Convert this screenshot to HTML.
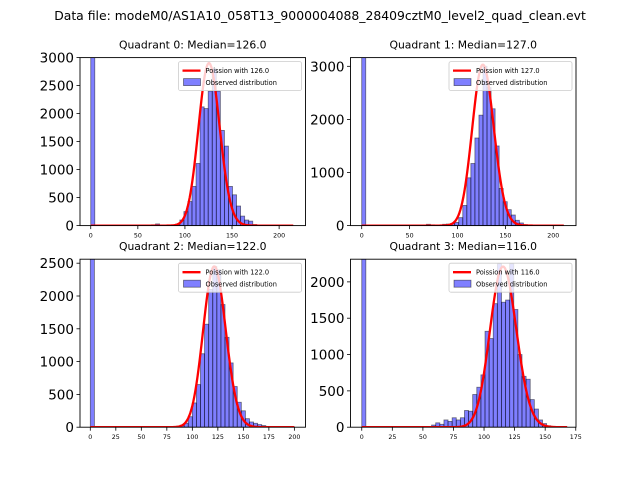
<!DOCTYPE html>
<html><head><meta charset="utf-8"><style>
html,body{margin:0;padding:0;background:#fff;}
svg{display:block;font-family:"DejaVu Sans","Liberation Sans",sans-serif;}
</style></head><body>
<svg id="fig" width="640" height="480" viewBox="0 0 640 480" xmlns="http://www.w3.org/2000/svg">
<text x="320" y="20" text-anchor="middle" font-size="12.4">Data file: modeM0/AS1A10_058T13_9000004088_28409cztM0_level2_quad_clean.evt</text>
</svg>
<script>
// ---- data ----
const q0Counts=[5000,0,0,0,0,0,0,0,0,0,0,0,0,0,0,15,30,10,10,5,10,30,100,250,430,700,1110,2120,2090,2400,2800,2400,1700,1420,700,550,350,170,100,80,20,10,5,5,0,0,0,0,0,0];
const q1Counts=[5000,0,0,0,0,0,0,0,0,0,0,0,0,0,0,10,25,15,0,10,25,30,40,60,150,380,900,1170,1650,2080,3000,2600,2200,1500,700,450,300,200,100,50,20,10,5,0,0,0,0,0,0,0];
const q2Counts=[5000,0,0,0,0,0,0,0,0,0,0,0,0,0,0,0,10,10,5,0,5,15,30,60,160,370,650,1120,1570,2100,2450,2400,1870,1370,980,620,380,250,130,80,60,40,25,10,5,0,0,0,0,0];
const q3Counts=[5000,0,0,0,0,0,0,0,0,0,0,0,0,0,0,0,0,30,60,40,100,80,130,100,130,230,220,450,550,720,1320,1220,1700,2250,1720,1750,2250,1620,1000,700,660,380,250,100,50,20,5,0,0,0];
const binWidths=[4.3,4.22,4.0,3.36];
const medians=[126,127,122,116];
const curvePeaks=[2900,3030,2450,2210];
const curveMax=[215,211,200,168];
const xLims=[[-11.4,228],[-11.7,223.7],[-10.1,210.9],[-9.2,175.2]];
const yLims=[[0,3000],[0,3164],[0,2561],[0,2312]];
const xTicks=[[0,50,100,150,200],[0,50,100,150,200],[0,25,50,75,100,125,150,175,200],[0,25,50,75,100,125,150,175]];
const yTicks=[[0,500,1000,1500,2000,2500,3000],[0,1000,2000,3000],[0,500,1000,1500,2000,2500],[0,500,1000,1500,2000]];
const allCounts=[q0Counts,q1Counts,q2Counts,q3Counts];
// ---- layout ----
const NS="http://www.w3.org/2000/svg";
const fig=document.getElementById('fig');
const boxes=[[80,57.6,225.5,168],[350.5,57.6,225.5,168],[80,259.2,225.5,168],[350.5,259.2,225.5,168]];
function mk(tag,attrs,parent){const e=document.createElementNS(NS,tag);for(const k in attrs)e.setAttribute(k,attrs[k]);parent.appendChild(e);return e;}
function lnfact(n){let s=0;for(let i=2;i<=n;i++)s+=Math.log(i);return s;}
for(let q=0;q<4;q++){
  const [L,T,W,H]=boxes[q];
  const xs=v=>L+(v-xLims[q][0])/(xLims[q][1]-xLims[q][0])*W;
  const ys=v=>T+H-(v-yLims[q][0])/(yLims[q][1]-yLims[q][0])*H;
  const g=mk('g',{},fig);
  
  
  const cp=mk('clipPath',{id:'clip'+q},g);
  mk('rect',{x:L,y:T,width:W,height:H},cp);
  const t=mk('text',{x:L+W/2,y:T-9,'text-anchor':'middle','font-size':'10.8'},g);
  t.textContent='Quadrant '+q+': Median='+medians[q].toFixed(1);
  
  
  const plot=mk('g',{'clip-path':'url(#clip'+q+')'},g);
  const bw=binWidths[q];
  allCounts[q].forEach((c,i)=>{
    if(c<=0)return;
    const x0=xs(i*bw),x1=xs((i+1)*bw),y0=ys(c);
    const r=mk('rect',{x:x0,y:y0,width:x1-x0,height:ys(0)-y0,fill:'rgba(0,0,255,0.5)',stroke:'rgba(0,0,0,0.5)','stroke-width':'0.8'},plot);
    
    
  });
  const mu=medians[q],lm=Math.log(mu),lfm=lnfact(mu);
  let d='';
  for(let k=0;k<=curveMax[q];k++){
    const r=Math.exp((k-mu)*lm-(lnfact(k)-lfm));
    const v=curvePeaks[q]*r;
    d+=(k?'L':'M')+xs(k).toFixed(2)+','+ys(v).toFixed(2);
  }
  const p=mk('path',{d:d,fill:'none',stroke:'#ff0000','stroke-width':'2.3','stroke-linejoin':'round'},plot);
  
  
  const frame=mk('rect',{x:L,y:T,width:W,height:H,fill:'none',stroke:'#000','stroke-width':'0.9'},g);
  
  
  xTicks[q].forEach(v=>{
    const x=xs(v);
    mk('line',{x1:x,x2:x,y1:T+H,y2:T+H+3.5,stroke:'#000','stroke-width':'0.8'},g);
    const tl=mk('text',{x:x,y:T+H+12,'text-anchor':'middle','font-size':'6.3'},g);
    tl.textContent=v;
    
    
  });
  yTicks[q].forEach(v=>{
    const y=ys(v);
    mk('line',{x1:L-3.5,x2:L,y1:y,y2:y,stroke:'#000','stroke-width':'0.8'},g);
    const tl=mk('text',{x:L-6,y:y+5,'text-anchor':'end','font-size':'13.5'},g);
    tl.textContent=v;
    
    
  });
  // legend
  const lx=L+W-127,ly=T+4;
  const lg=mk('g',{},g);
  
  
  mk('rect',{x:lx,y:ly,width:123,height:29,rx:2,fill:'rgba(255,255,255,0.8)',stroke:'#ccc','stroke-width':'0.8'},lg);
  mk('line',{x1:lx+4,x2:lx+22,y1:ly+9,y2:ly+9,stroke:'#ff0000','stroke-width':'2.3'},lg);
  const t1=mk('text',{x:lx+27,y:ly+11.5,'font-size':'6.6'},lg);
  t1.textContent='Poission with '+medians[q].toFixed(1);
  
  
  mk('rect',{x:lx+5,y:ly+17,width:17,height:7,fill:'rgba(0,0,255,0.5)',stroke:'rgba(0,0,0,0.5)','stroke-width':'0.8'},lg);
  const t2=mk('text',{x:lx+27,y:ly+23.5,'font-size':'6.6'},lg);
  t2.textContent='Observed distribution';
  
  
}
</script>
</body></html>
